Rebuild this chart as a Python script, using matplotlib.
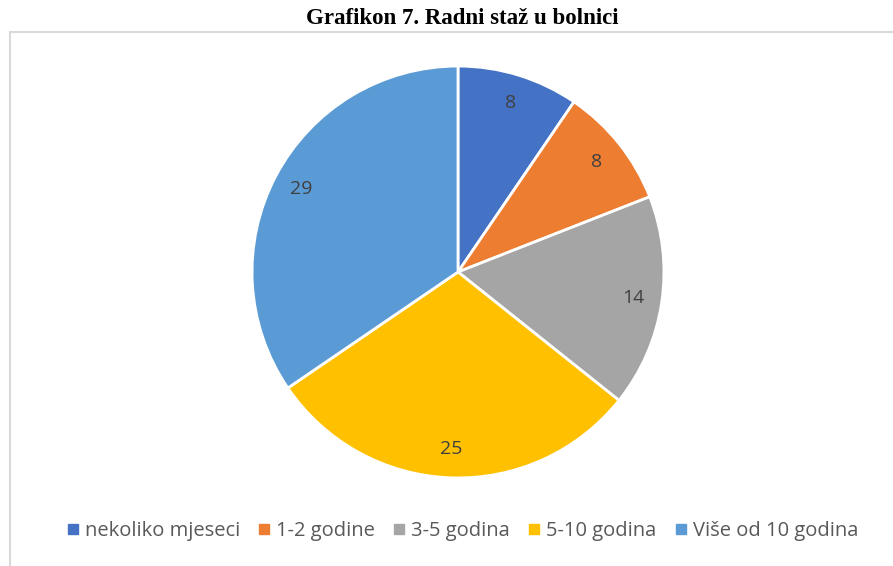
import matplotlib
matplotlib.use('Agg')
import matplotlib.pyplot as plt
import numpy as np
from matplotlib.lines import Line2D
from matplotlib.patches import Rectangle

# podaci sa grafikona
kategorije = ['nekoliko mjeseci', '1-2 godine', '3-5 godina', '5-10 godina', 'Više od 10 godina']
vrijednosti = [8, 8, 14, 25, 29]
boje = ['#4472C4', '#ED7D31', '#A5A5A5', '#FFC000', '#5B9BD5']

W, H = 893, 566
fig = plt.figure(figsize=(W / 100, H / 100), dpi=100)
fig.patch.set_facecolor('white')

# okvir grafikona
fig.patches.append(Rectangle((10 / W, -0.1), 1.2, (H - 32) / H + 0.1, transform=fig.transFigure,
                             fill=False, edgecolor='#D9D9D9', linewidth=1.5))

fig.text(462 / W, 1 - 24 / H, 'Grafikon 7. Radni staž u bolnici', ha='center', va='baseline',
         fontsize=16.5, fontweight='bold', family='Liberation Serif')

cx, cy, r = 458, 272, 208
ax = fig.add_axes([(cx - r) / W, (H - cy - r) / H, 2 * r / W, 2 * r / H])
ax.pie(vrijednosti, colors=boje, startangle=90, counterclock=False,
       wedgeprops=dict(edgecolor='white', linewidth=2))
ax.set_xlim(-1.01, 1.01)
ax.set_ylim(-1.01, 1.01)
ax.set_aspect('equal')
ax.axis('off')

# oznake vrijednosti
ukupno = sum(vrijednosti)
kum = 0
for v in vrijednosti:
    sred = 90 - (kum + v / 2) / ukupno * 360
    kum += v
    d = 0.86
    ax.text(d * np.cos(np.radians(sred)), d * np.sin(np.radians(sred)), str(v),
            ha='center', va='center', fontsize=14, color='#404040', family='Open Sans')

rucke = [Line2D([], [], marker='s', linestyle='', markersize=6.5, markerfacecolor=b,
                markeredgecolor=b) for b in boje]
fig.legend(rucke, kategorije, loc='center', bbox_to_anchor=(463 / W, 1 - 531 / H), ncol=5,
           frameon=False, handlelength=0.5, handletextpad=0.35, columnspacing=0.95,
           prop={'family': 'Open Sans', 'size': 14.5}, labelcolor='#595959')

fig.savefig('out.png', dpi=100)
